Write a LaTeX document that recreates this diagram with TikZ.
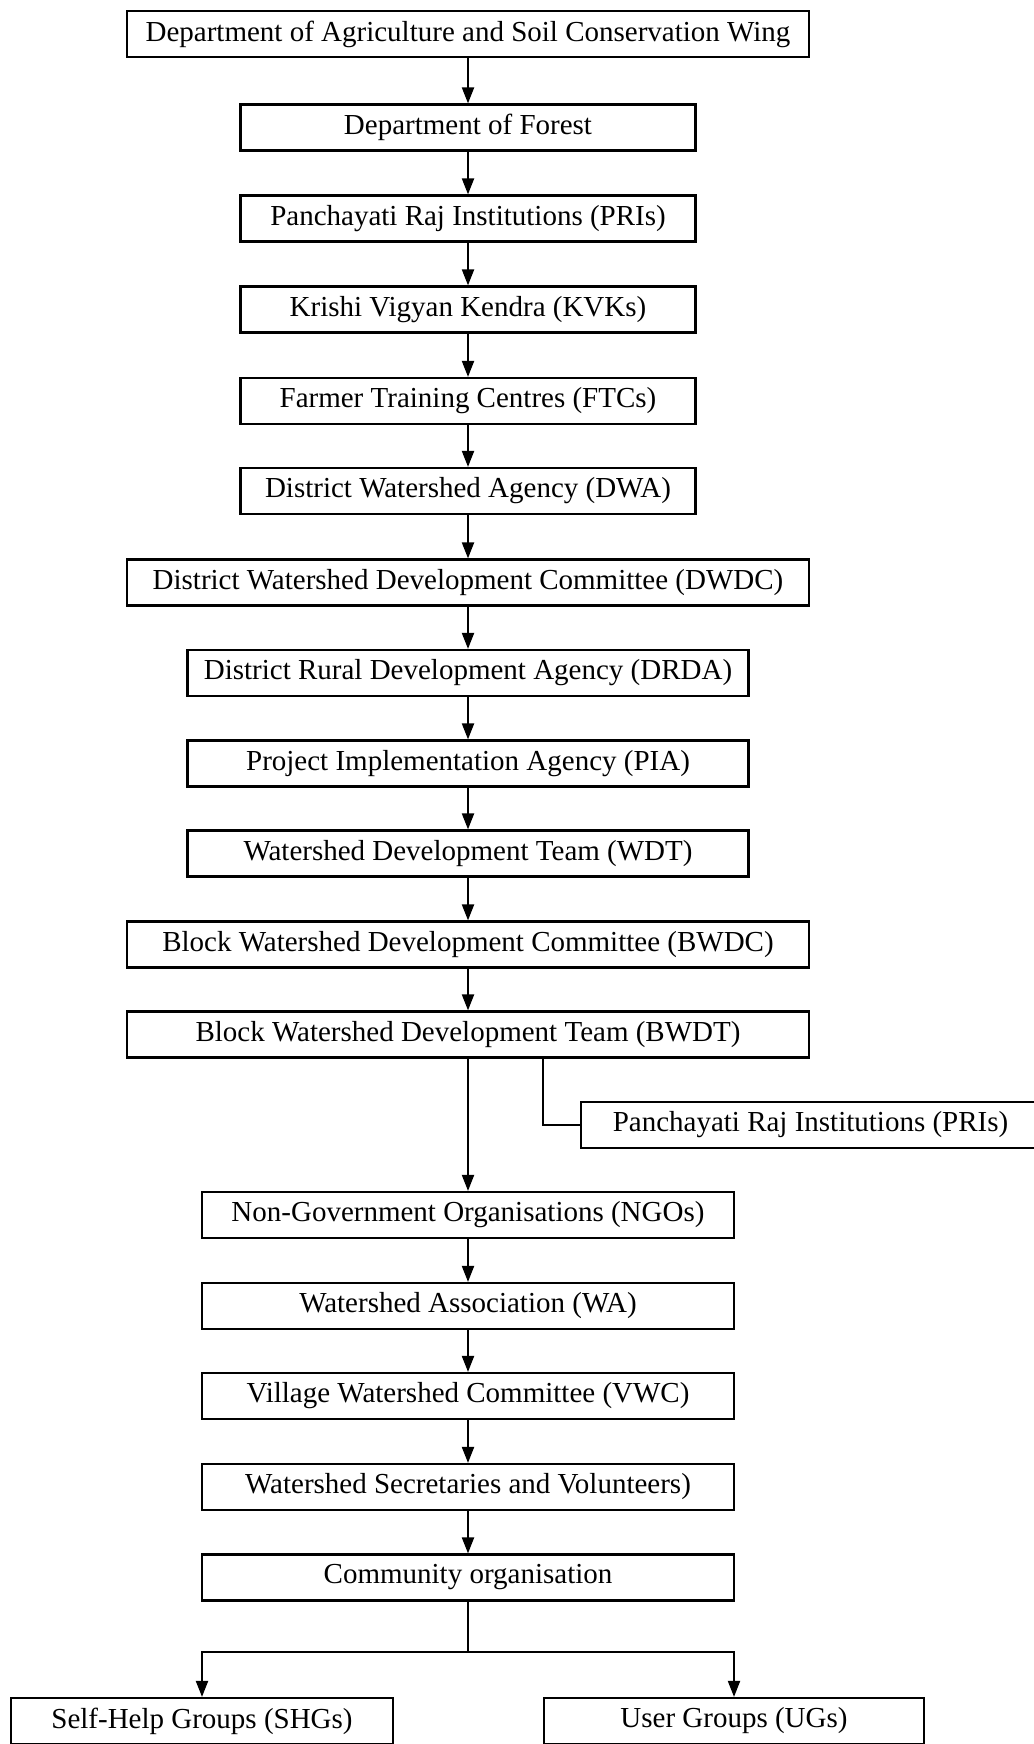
\documentclass[tikz,border=0pt]{standalone}
\usepackage{fontspec}
\setmainfont{Liberation Serif}
\usetikzlibrary{arrows.meta}
\begin{document}
\begin{tikzpicture}[x=1pt,y=-1pt,
  box/.style={draw=black,line width=2.2pt,fill=white,inner sep=0pt,
    minimum height=46pt,font=\fontsize{29}{34}\selectfont},
  link/.style={line width=2pt,-{Triangle[length=16pt,width=12pt]}},
  plain/.style={line width=2pt}]
\useasboundingbox (0,0) rectangle (1033,1744);
% main column
\node[box,minimum width=682pt] (agri)   at (468,34)    {Department of Agriculture and Soil Conservation Wing};
\node[box,minimum width=455pt] (forest) at (468,127.5) {Department of Forest};
\node[box,minimum width=455pt] (prione) at (468,218.5) {Panchayati Raj Institutions (PRIs)};
\node[box,minimum width=455pt] (kvk)    at (468,309.5) {Krishi Vigyan Kendra (KVKs)};
\node[box,minimum width=455pt] (ftc)    at (468,401)   {Farmer Training Centres (FTCs)};
\node[box,minimum width=455pt] (dwa)    at (468,491)   {District Watershed Agency (DWA)};
\node[box,minimum width=682pt] (dwdc)   at (468,582.5) {District Watershed Development Committee (DWDC)};
\node[box,minimum width=561pt] (drda)   at (468,673)   {District Rural Development Agency (DRDA)};
\node[box,minimum width=561pt] (pia)    at (468,763.5) {Project Implementation Agency (PIA)};
\node[box,minimum width=561pt] (wdt)    at (468,853.5) {Watershed Development Team (WDT)};
\node[box,minimum width=682pt] (bwdc)   at (468,944.5) {Block Watershed Development Committee (BWDC)};
\node[box,minimum width=682pt] (bwdt)   at (468,1034.5){Block Watershed Development Team (BWDT)};
\node[box,minimum width=459pt] (pritwo) at (810.5,1125){Panchayati Raj Institutions (PRIs)};
\node[box,minimum width=532pt] (ngo)    at (468,1215)  {Non-Government Organisations (NGOs)};
\node[box,minimum width=532pt] (wa)     at (468,1306)  {Watershed Association (WA)};
\node[box,minimum width=532pt] (vwc)    at (468,1396)  {Village Watershed Committee (VWC)};
\node[box,minimum width=532pt] (wsv)    at (468,1487)  {Watershed Secretaries and Volunteers)};
\node[box,minimum width=532pt] (comm)   at (468,1577.5){Community organisation};
\node[box,minimum width=382pt] (shg)    at (202,1721)  {Self-Help Groups (SHGs)};
\node[box,minimum width=380pt] (ug)     at (734,1721)  {User Groups (UGs)};
% vertical chain
\foreach \a/\b in {agri/forest,forest/prione,prione/kvk,kvk/ftc,ftc/dwa,dwa/dwdc,
  dwdc/drda,drda/pia,pia/wdt,wdt/bwdc,bwdc/bwdt,bwdt/ngo,ngo/wa,wa/vwc,vwc/wsv,wsv/comm}
  \draw[link] (\a.south) -- (\b.north);
% side branch to the PRIs
\coordinate (tap) at (543,1057.5);
\draw[plain] (tap) |- (pritwo.west);
% split to the groups
\coordinate (split) at (468,1652);
\draw[plain] (comm.south) -- (split);
\draw[link] (split) -| (shg.north);
\draw[link] (split) -| (ug.north);
\end{tikzpicture}
\end{document}
